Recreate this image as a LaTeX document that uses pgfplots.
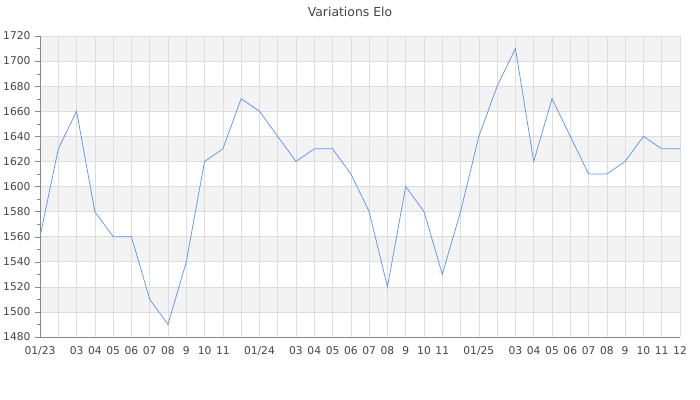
\documentclass[border=0pt]{standalone}
\usepackage{fontspec}
\setmainfont{DejaVu Sans}
\usepackage{pgfplots}
\pgfplotsset{compat=1.18}
\definecolor{band}{HTML}{F3F3F3}
\definecolor{gridc}{HTML}{DDDDDD}
\definecolor{axc}{HTML}{888888}
\definecolor{txt}{HTML}{444444}
\definecolor{line}{HTML}{6495ED}
\pgfplotstableread{
x y
0 1560
1 1630
2 1660
3 1580
4 1560
5 1560
6 1510
7 1490
8 1540
9 1620
10 1630
11 1670
12 1660
13 1640
14 1620
15 1630
16 1630
17 1610
18 1580
19 1520
20 1600
21 1580
22 1530
23 1580
24 1640
25 1680
26 1710
27 1620
28 1670
29 1640
30 1610
31 1610
32 1620
33 1640
34 1630
35 1630
}\elo
\begin{document}
\begin{tikzpicture}
\begin{axis}[
  set layers,
  scale only axis, width=640bp, height=301bp,
  at={(0,0)}, anchor=south west,
  xmin=0, xmax=35, ymin=1480, ymax=1720,
  axis x line*=bottom, axis y line*=left,
  axis line style={axc, -},
  xtick={0,...,35},
  xticklabels={01/23,,03,04,05,06,07,08,9,10,11,,01/24,,03,04,05,06,07,08,9,10,11,,01/25,,03,04,05,06,07,08,9,10,11,12},
  x tick style={draw=none},
  ytick={1480,1500,...,1720},
  minor y tick num=1,
  y tick style={axc},
  major tick length=5bp, minor tick length=3bp,
  tick align=outside,
  grid=major,
  major grid style={gridc, line width=0.6pt},
  ticklabel style={font=\fontsize{10.7bp}{12bp}\selectfont, text=txt},
  /pgf/number format/assume math mode=true,
  /pgf/number format/1000 sep={},
  yticklabel style={xshift=-1bp},
  xticklabel style={yshift=-1bp},
  title={Variations Elo},
  every axis title/.style={at={(0.5,1)}, anchor=base, yshift=19.3bp, xshift=-10bp, font=\fontsize{12.4bp}{14bp}\selectfont, text=txt},
]
\addplot[draw=none, fill=band, on layer=axis background] coordinates {(0,1500) (35,1500) (35,1520) (0,1520) (0,1500)};
\addplot[draw=none, fill=band, on layer=axis background] coordinates {(0,1540) (35,1540) (35,1560) (0,1560) (0,1540)};
\addplot[draw=none, fill=band, on layer=axis background] coordinates {(0,1580) (35,1580) (35,1600) (0,1600) (0,1580)};
\addplot[draw=none, fill=band, on layer=axis background] coordinates {(0,1620) (35,1620) (35,1640) (0,1640) (0,1620)};
\addplot[draw=none, fill=band, on layer=axis background] coordinates {(0,1660) (35,1660) (35,1680) (0,1680) (0,1660)};
\addplot[draw=none, fill=band, on layer=axis background] coordinates {(0,1700) (35,1700) (35,1720) (0,1720) (0,1700)};
\addplot[line, line width=0.75pt, mark=none] table[x=x,y=y]{\elo};
\end{axis}
\pgfresetboundingbox
\useasboundingbox (-40bp,-63bp) rectangle (660bp,337bp);
\end{tikzpicture}
\end{document}
